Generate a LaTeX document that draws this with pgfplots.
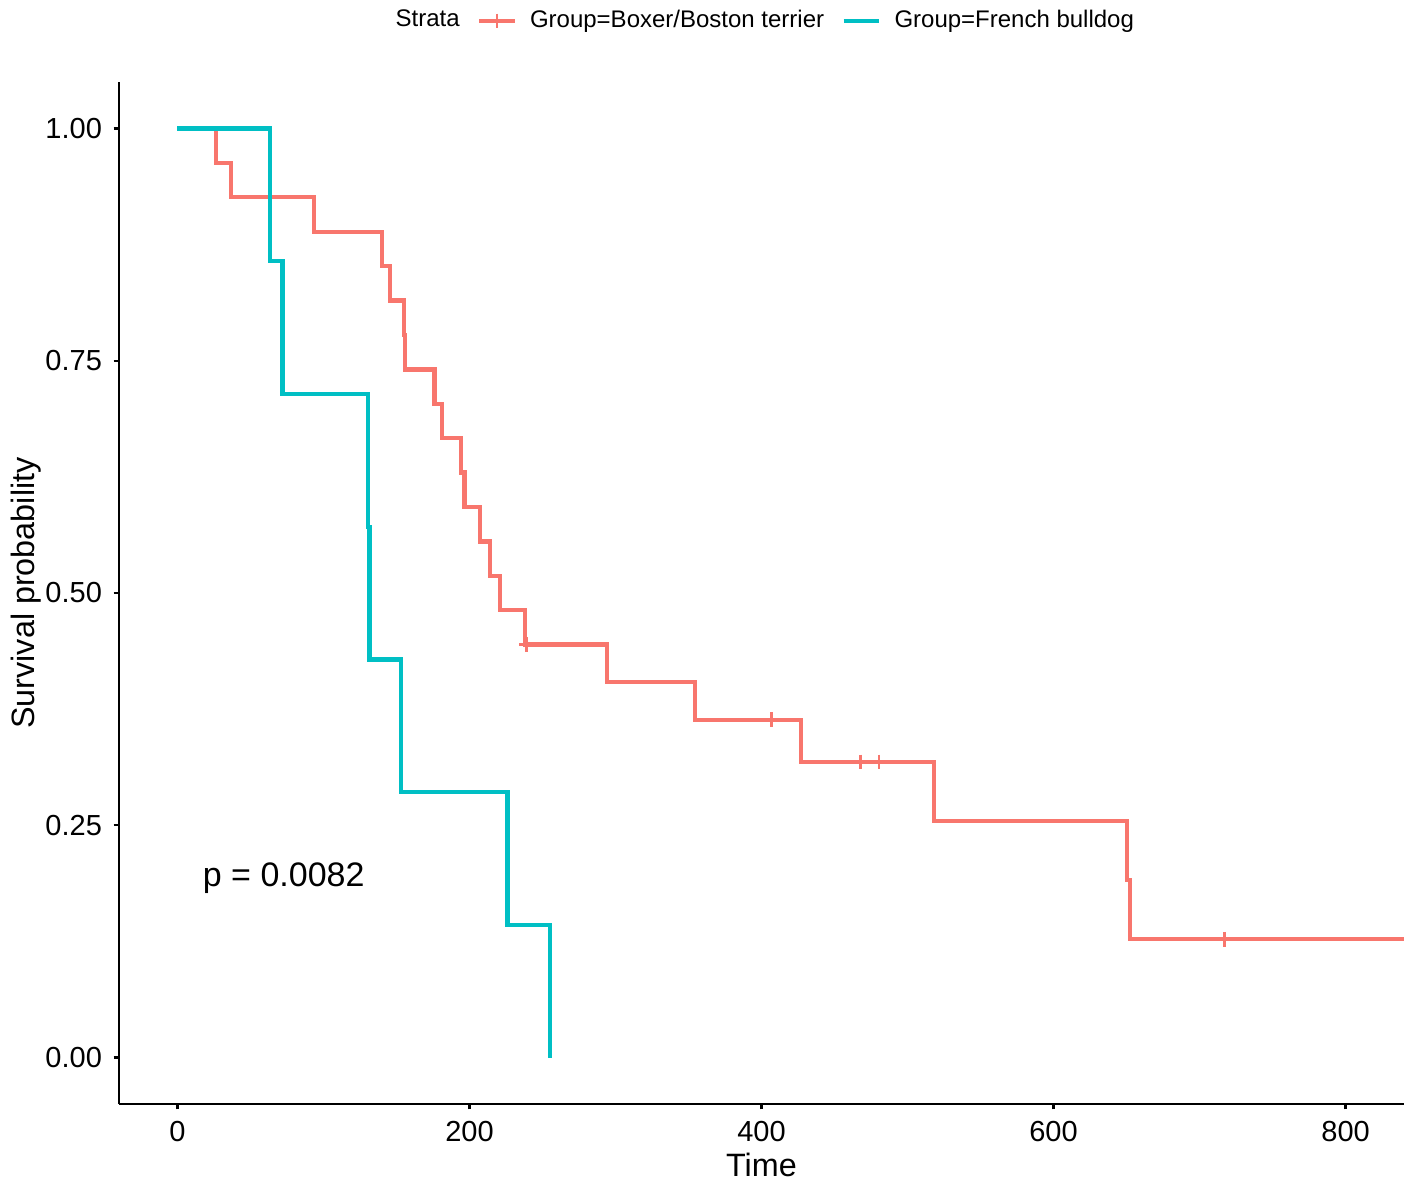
\documentclass[border=0pt]{standalone}
\usepackage{pgfplots}
\pgfplotsset{compat=1.18}
\usepackage{fontspec}
\setmainfont{Liberation Sans}
\definecolor{kmred}{HTML}{F8766D}
\definecolor{kmcyan}{HTML}{00BFC4}
\begin{document}
\begin{tikzpicture}
\useasboundingbox (-35.7pt,-25.5pt) rectangle (389.7pt,331.2pt);
\begin{axis}[
  scale only axis,
  width=385.5pt, height=306.6pt,
  xmin=-40, xmax=840, ymin=-0.05, ymax=1.05,
  axis x line*=bottom, axis y line*=left,
  axis line style={-, line width=0.7pt, black},
  tick align=outside, major tick length=1.6pt,
  tick style={line width=0.7pt, black},
  xtick={0,200,400,600,800}, xticklabels={0,200,400,600,800},
  ytick={0,0.25,0.5,0.75,1}, yticklabels={0.00,0.25,0.50,0.75,1.00},
  ticklabel style={font=\fontsize{8.7}{10}\selectfont, black},
  xlabel={Time}, ylabel={Survival probability},
  label style={font=\fontsize{9.7}{11}\selectfont},
  xlabel style={yshift=3.5pt},
  ylabel style={yshift=-5.6pt},
  legend style={at={(0.5,1.0597)}, anchor=center, draw=none, fill=none,
    font=\fontsize{7.2}{8.6}\selectfont, inner sep=0pt,
    /tikz/every even column/.append style={column sep=3.2pt},
    /tikz/every odd column/.append style={column sep=2pt}},
  legend columns=-1,
  legend image code/.code={\draw[mark repeat=2,mark phase=2,#1] plot coordinates {(0pt,0pt) (5.3pt,0pt) (10.6pt,0pt)};},
]
\addlegendimage{empty legend}
\addlegendentry{Strata}
\addlegendimage{color=kmred, line width=1.3pt, mark=+, mark size=2.2pt, mark options={line width=0.8pt}}
\addlegendentry{Group=Boxer/Boston terrier}
\addlegendimage{color=kmcyan, line width=1.3pt}
\addlegendentry{Group=French bulldog}

\addplot[const plot, color=kmred, line width=1.3pt, forget plot] coordinates {
(0,1) (26.5,0.9630) (36.5,0.9259) (93.5,0.8889) (140,0.8519) (145.5,0.8148)
(155,0.7778) (156,0.7407) (176,0.7037) (181,0.6667) (194,0.6296) (196.5,0.5926)
(207,0.5556) (214,0.5185) (221,0.4815) (238,0.4444) (294,0.4040) (354.5,0.3636)
(427,0.3182) (518,0.2545) (650.5,0.1909) (652.5,0.1273) (840,0.1273)
};
\addplot[only marks, color=kmred, mark=+, mark size=2.2pt, mark options={line width=0.8pt}, forget plot] coordinates {
(239,0.4444) (407,0.3636) (468,0.3182) (480.5,0.3182) (717,0.1273)
};
\addplot[const plot, color=kmcyan, line width=1.3pt, forget plot] coordinates {
(0,1) (63.5,0.8571) (72,0.7143) (130.5,0.5714) (131.5,0.4286) (153,0.2857)
(226,0.1429) (255,0)
};
\node[anchor=base west, inner sep=0pt, font=\fontsize{10.2}{12}\selectfont] at (axis cs:17,0.184) {p = 0.0082};
\end{axis}
\end{tikzpicture}
\end{document}
